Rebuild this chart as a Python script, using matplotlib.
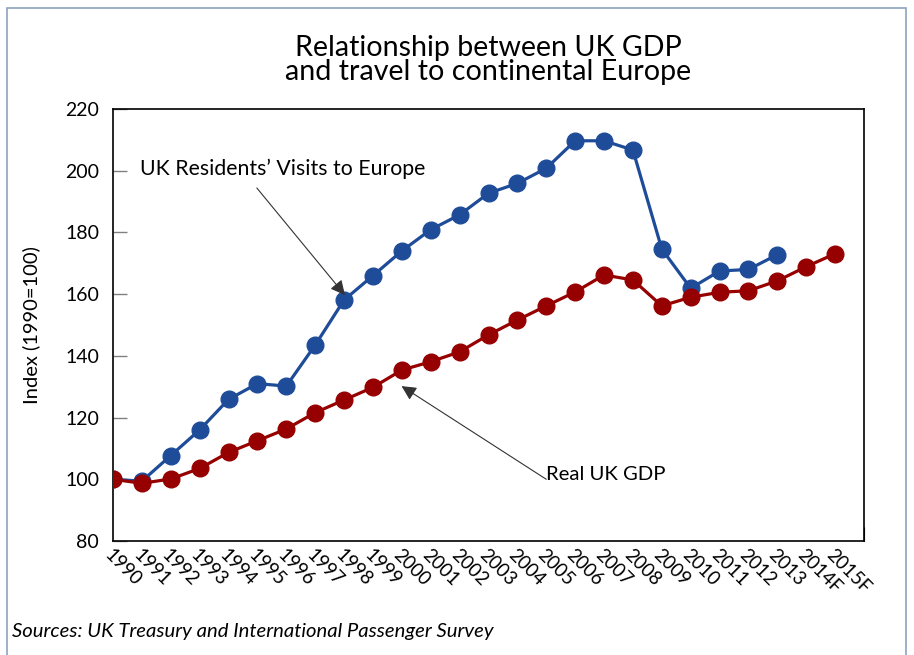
import matplotlib.pyplot as plt
from matplotlib.patches import Rectangle

# ------- data --------#
years = ['1990', '1991', '1992', '1993', '1994', '1995', '1996', '1997', '1998', '1999',
         '2000', '2001', '2002', '2003', '2004', '2005', '2006', '2007', '2008', '2009',
         '2010', '2011', '2012', '2013', '2014F', '2015F']

visits = [100, 99.4, 107.7, 116, 125.9, 131, 130.2, 143.5, 158.1, 166,
          174, 180.9, 185.7, 192.7, 195.9, 200.8, 209.7, 209.7, 206.7, 174.6,
          161.9, 167.5, 168, 172.8]

gdp = [100, 98.7, 100.1, 103.5, 108.7, 112.5, 116.3, 121.6, 125.7, 129.8,
       135.4, 138.1, 141.3, 146.8, 151.6, 156.2, 160.7, 166.2, 164.6, 156.2,
       159, 160.6, 161.1, 164.3, 168.9, 173.1]

blue = '#1F4C99'
red = '#960000'
plt.rcParams['font.family'] = ['Lato', 'DejaVu Sans']

fig = plt.figure(figsize=(9.14, 6.55), dpi=100)
ax = fig.add_axes([113 / 914, 1 - 541 / 655, (864 - 113) / 914, (541 - 109) / 655])

ax.plot(range(len(visits)), visits, color=blue, lw=2.3, marker='o', ms=12, zorder=3)
ax.plot(range(len(gdp)), gdp, color=red, lw=2.3, marker='o', ms=12, zorder=3)

ax.set_xlim(0, 26)
ax.set_ylim(80, 220)
ax.set_yticks(range(80, 221, 20))
ax.set_xticks(range(0, 27), minor=True)
ax.set_xticks(range(len(years)))
ax.set_xticklabels(years, rotation=-45, ha='left', va='top', rotation_mode='anchor', fontsize=13.5)
ax.tick_params(axis='x', which='both', direction='in', length=10, width=0.8, pad=4)
ax.tick_params(axis='y', direction='in', length=10, width=1, color='#808080', labelsize=14, pad=10)
ax.tick_params(axis='x', which='major', length=0)
for s in ax.spines.values():
    s.set_linewidth(1.2)
ax.set_ylabel('Index (1990=100)', fontsize=14.5, labelpad=18)

# annotations
arrow = dict(arrowstyle='-|>', color='#333333', lw=0.8, mutation_scale=22, shrinkA=0, shrinkB=0)
ax.text(0.93, 200.5, 'UK Residents\u2019 Visits to Europe', fontsize=15.3, ha='left', va='center')
ax.annotate('', xy=(8.03, 159.7), xytext=(4.98, 194.4), arrowprops=arrow)
ax.text(15.0, 101.7, 'Real UK GDP', fontsize=14.6, ha='left', va='center')
ax.annotate('', xy=(9.99, 130.2), xytext=(15.0, 100), arrowprops=arrow)

fig.text(488.5 / 914, 1 - 60 / 655, 'Relationship between UK GDP\nand travel to continental Europe',
         ha='center', va='center', fontsize=20.6, linespacing=0.95)
fig.text(12 / 914, 1 - 632 / 655, 'Sources: UK Treasury and International Passenger Survey',
         ha='left', va='center', fontsize=14.6, style='italic')

fig.patches.append(Rectangle((7 / 914, -0.1), (906 - 7) / 914, 1.1 - 8 / 655,
                             transform=fig.transFigure, fill=False, edgecolor='#8EA3BF', lw=1.2))

fig.savefig('out.png', dpi=100)
